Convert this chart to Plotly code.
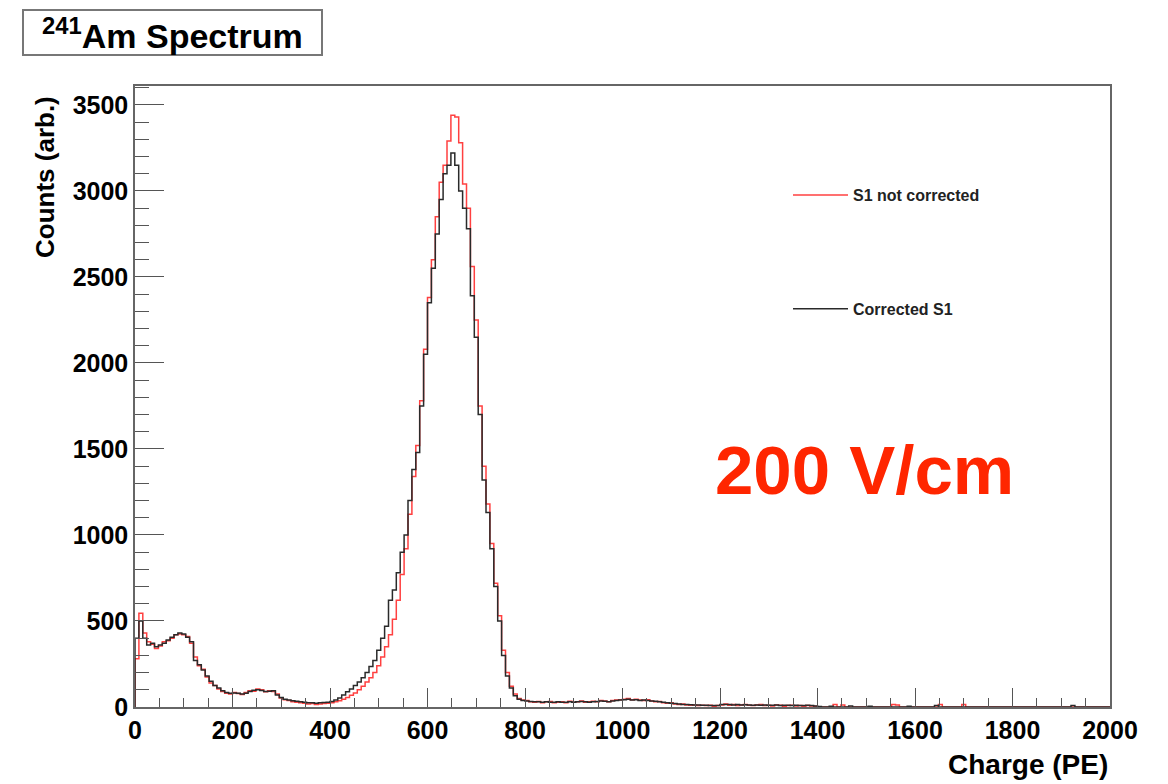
import plotly.graph_objects as go

# ---------------- data (histograms, 8 PE bins from 0 to 2000) ----------------
bin_width = 8
x_min, x_max = 0, 2000

# "S1 not corrected" (red)
s1_raw = [
    # 0-200
    280, 545, 430, 380, 365, 340, 355, 380, 385, 400, 420, 425, 420, 410, 370, 290, 240, 220, 175, 140, 125, 105, 90, 80, 75,
    # 200-400
    85, 78, 72, 85, 95, 92, 105, 100, 88, 95, 90, 75, 52, 42, 38, 30, 28, 25, 22, 18, 20, 15, 18, 20, 22,
    # 400-600
    25, 30, 36, 45, 55, 68, 82, 100, 120, 145, 170, 200, 240, 290, 350, 420, 510, 620, 770, 920, 1120, 1340, 1520, 1780, 2080,
    # 600-800
    2380, 2600, 2850, 3050, 3150, 3290, 3440, 3430, 3280, 3040, 2900, 2560, 2250, 1750, 1400, 1180, 950, 720, 530, 330, 200, 120, 75, 50, 40,
    # 800-1000
    38, 30, 28, 32, 25, 30, 32, 25, 28, 30, 25, 33, 28, 30, 35, 28, 30, 33, 30, 38, 35, 30, 38, 40, 42,
    # 1000-1200
    45, 50, 42, 45, 40, 38, 42, 35, 30, 32, 25, 22, 25, 18, 15, 18, 12, 10, 12, 8, 10, 8, 10, 5, 8,
    # 1200-1400
    12, 18, 10, 15, 8, 12, 15, 10, 8, 12, 15, 8, 10, 6, 12, 10, 5, 8, 10, 6, 8, 5, 8, 6, 5,
    # 1400-1600
    0, 0, 0, 0, 15, 0, 12, 0, 0, 0, 0, 0, 0, 0, 0, 0, 0, 0, 0, 14, 12, 0, 0, 0, 0,
    # 1600-1800
    0, 0, 0, 0, 0, 0, 15, 0, 0, 0, 0, 0, 15, 0, 0, 0, 0, 0, 0, 0, 0, 0, 0, 0, 0,
    # 1800-2000
    0, 0, 0, 0, 0, 0, 0, 0, 0, 0, 0, 0, 0, 0, 0, 0, 0, 0, 0, 0, 0, 0, 0, 0, 0,
]

# "Corrected S1" (black)
s1_corr = [
    # 0-200
    400, 500, 400, 360, 370, 350, 360, 370, 390, 405, 420, 430, 425, 405, 380, 270, 245, 215, 180, 150, 125, 110, 95, 85, 80,
    # 200-400
    82, 80, 76, 80, 90, 98, 100, 96, 90, 92, 95, 70, 55, 45, 40, 36, 33, 30, 28, 25, 24, 22, 24, 26, 28,
    # 400-600
    32, 40, 52, 70, 88, 105, 125, 145, 170, 200, 235, 270, 330, 400, 470, 620, 680, 780, 900, 1000, 1200, 1380, 1480, 1750, 2050,
    # 600-800
    2350, 2550, 2750, 2950, 3100, 3150, 3220, 3150, 3000, 2900, 2780, 2390, 2150, 1700, 1320, 1130, 920, 700, 500, 300, 180, 110, 65, 45, 38,
    # 800-1000
    35, 32, 30, 30, 28, 30, 28, 27, 30, 28, 27, 30, 28, 30, 32, 30, 28, 30, 32, 35, 33, 30, 35, 38, 40,
    # 1000-1200
    42, 45, 40, 42, 38, 40, 38, 35, 33, 30, 28, 25, 22, 20, 18, 15, 15, 13, 12, 12, 10, 10, 8, 8, 8,
    # 1200-1400
    15, 14, 15, 12, 14, 12, 13, 12, 10, 12, 10, 12, 10, 10, 12, 8, 10, 10, 8, 10, 8, 8, 10, 8, 6,
    # 1400-1600
    3, 0, 0, 5, 0, 0, 0, 0, 6, 0, 0, 0, 0, 5, 0, 0, 0, 0, 0, 0, 0, 0, 0, 4, 0,
    # 1600-1800
    0, 0, 0, 0, 0, 8, 0, 0, 0, 0, 0, 0, 0, 0, 0, 0, 0, 0, 0, 0, 0, 0, 0, 0, 0,
    # 1800-2000
    0, 0, 0, 0, 0, 0, 0, 0, 0, 0, 0, 0, 0, 0, 0, 8, 0, 0, 0, 0, 0, 0, 0, 0, 0,
]

series_names = ["S1 not corrected", "Corrected S1"]
series_colors = ["#ff4040", "#2a2a2a"]

x_tick_vals = [0, 200, 400, 600, 800, 1000, 1200, 1400, 1600, 1800, 2000]
y_tick_vals = [0, 500, 1000, 1500, 2000, 2500, 3000, 3500]


def step_xy(vals):
    n = len(vals)
    edges = [x_min + i * bin_width for i in range(n)]
    xs = [x_min] + edges + [x_min + n * bin_width]
    ys = [0] + list(vals) + [vals[-1]]
    return xs, ys


fig = go.Figure()
for i, (vals, name, col) in enumerate(zip([s1_raw, s1_corr], series_names, series_colors)):
    xs, ys = step_xy(vals)
    fig.add_trace(go.Scatter(
        x=xs, y=ys, mode="lines", name=name, legendgroup=f"g{i}",
        line=dict(color=col, width=1.5, shape="hv"),
    ))

L, R, T, B = 135, 58, 86, 77
W, H = 1168, 784
pw, ph = W - L - R, H - T - B


def px(xp):
    return (xp - L) / pw


def py(yp):
    return (H - B - yp) / ph


FONT = "Liberation Sans, Arial, sans-serif"
tickfont = dict(family=FONT, size=25, color="black", weight="bold")

fig.update_layout(
    width=W, height=H,
    margin=dict(l=L, r=R, t=T, b=B),
    paper_bgcolor="white", plot_bgcolor="white",
    showlegend=True,
    legend=dict(
        x=px(788), y=py(178), xanchor="left", yanchor="top",
        bgcolor="rgba(0,0,0,0)", borderwidth=0,
        font=dict(family=FONT, size=16, color="#222", weight="bold"),
        tracegroupgap=90, itemwidth=55,
    ),
    xaxis=dict(
        range=[x_min, x_max], tickmode="array", tickvals=x_tick_vals,
        ticks="inside", ticklen=19, tickwidth=1, tickcolor="#555",
        minor=dict(dtick=50, ticks="inside", ticklen=9, tickwidth=1, tickcolor="#555"),
        showline=True, linecolor="#666", linewidth=1.5, mirror=True,
        showgrid=False, zeroline=False, tickfont=tickfont,
    ),
    yaxis=dict(
        range=[0, 3610], tickmode="array", tickvals=y_tick_vals,
        ticks="inside", ticklen=29, tickwidth=1, tickcolor="#555",
        minor=dict(dtick=100, ticks="inside", ticklen=14, tickwidth=1, tickcolor="#555"),
        showline=True, linecolor="#666", linewidth=1.5, mirror=True,
        showgrid=False, zeroline=False, tickfont=tickfont,
    ),
    shapes=[dict(
        type="rect", xref="paper", yref="paper",
        x0=px(23), x1=px(322), y0=py(55), y1=py(10),
        line=dict(color="#777", width=2), fillcolor="white", layer="above",
    )],
    annotations=[
        dict(text="<sup>241</sup>Am Spectrum", xref="paper", yref="paper",
             x=px(172), y=py(33), xanchor="center", yanchor="middle", showarrow=False,
             font=dict(family=FONT, size=34, color="black", weight="bold")),
        dict(text="Counts (arb.)", xref="paper", yref="paper", textangle=-90,
             x=px(45), y=py(94), xanchor="center", yanchor="top", showarrow=False,
             font=dict(family=FONT, size=26, color="black", weight="bold")),
        dict(text="Charge (PE)", xref="paper", yref="paper",
             x=px(1110), y=py(764), xanchor="right", yanchor="middle", showarrow=False,
             font=dict(family=FONT, size=28, color="black", weight="bold")),
        dict(text="200 V/cm", xref="paper", yref="paper",
             x=px(864), y=py(470), xanchor="center", yanchor="middle", showarrow=False,
             font=dict(family=FONT, size=69, color="#ff2600", weight="bold")),
    ],
)

fig.write_html("out.html")
